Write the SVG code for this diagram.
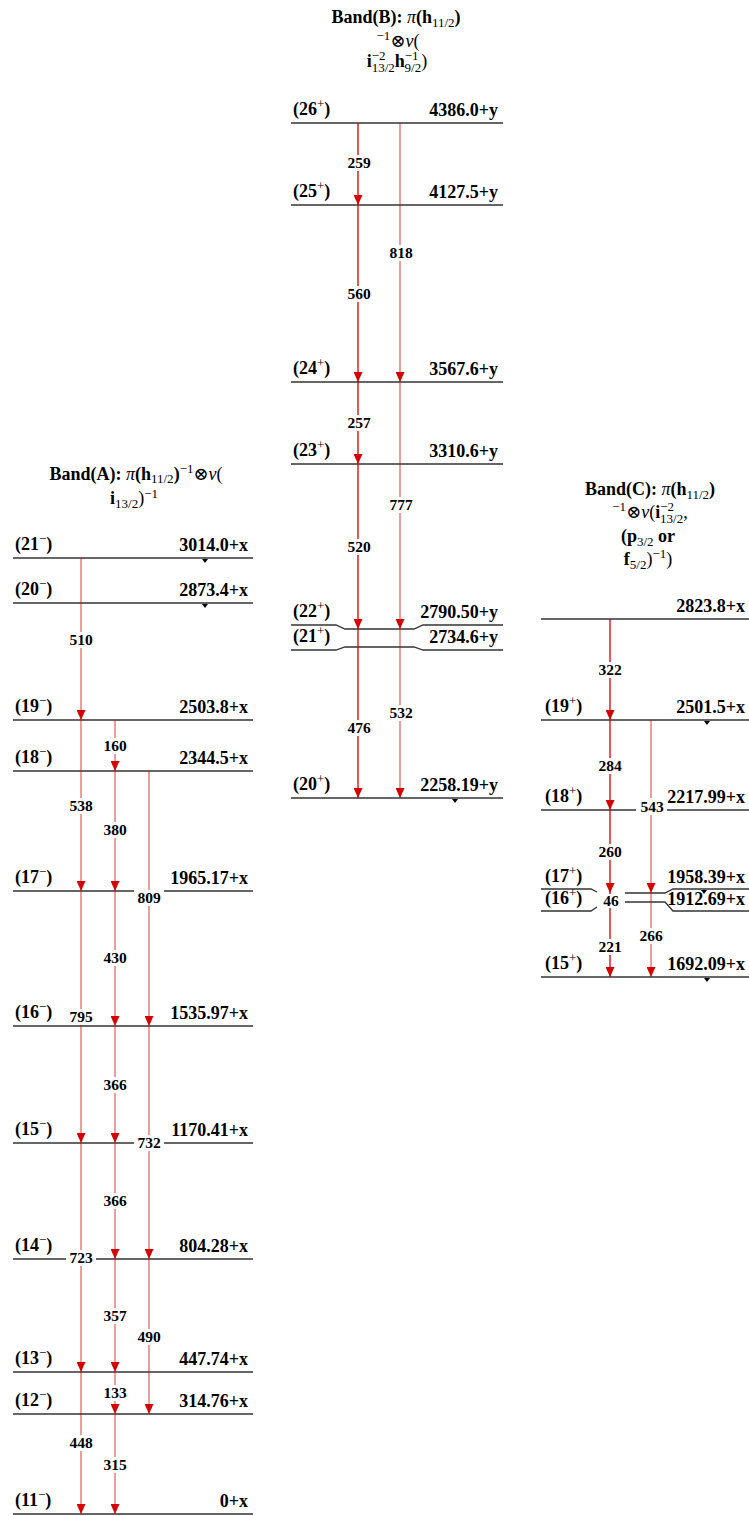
<svg xmlns="http://www.w3.org/2000/svg" width="749" height="1516" viewBox="0 0 749 1516">
<defs>
<marker id="ah" viewBox="0 0 10 9" refX="10" refY="4.5" markerWidth="10" markerHeight="9" markerUnits="userSpaceOnUse" orient="auto"><path d="M0,0 L10,4.5 L0,9 z" fill="#d40000"/></marker>
</defs>
<style>
text{font-family:"Liberation Serif","Times New Roman","DejaVu Serif",serif;font-weight:bold;fill:#000}
.lvl line,.lvl path{stroke:#333;stroke-width:1.3;fill:none}
.lvl polygon{fill:#000}
.spin{font-size:18px}
.en{font-size:18px;text-anchor:end}
.sup{font-size:13px;font-weight:normal}
.tr line{stroke:#d40000;stroke-width:1.3}
.tr line.w{stroke-opacity:0.6}
.tr rect{fill:#fff}
.tr text{font-size:15.5px;text-anchor:middle}
.title{font-size:18px;text-anchor:middle}
.n{font-weight:normal}
.it{font-style:italic;font-weight:normal}
.s{font-size:13px;font-weight:normal}
</style>

<!-- Titles -->
<g id="titleA">
<text class="title" x="136" y="480">Band(A): <tspan class="it">π</tspan>(h<tspan class="s" dy="3">11/2</tspan><tspan dy="-3">)</tspan><tspan class="s" dy="-7">−1</tspan><tspan class="n" dy="7">⊗</tspan><tspan class="it">ν</tspan><tspan class="n">(</tspan></text>
<text class="title" x="134" y="504">i<tspan class="s" dy="4">13/2</tspan><tspan class="n" dy="-4">)</tspan><tspan class="s" dy="-6">−1</tspan></text>
</g>
<g id="titleB">
<text class="title" x="396" y="23">Band(B): <tspan class="it">π</tspan>(h<tspan class="s" dy="4">11/2</tspan><tspan dy="-4">)</tspan></text>
<text class="title" x="398" y="47"><tspan class="s" dy="-7">−1</tspan><tspan class="n" dy="7">⊗</tspan><tspan class="it">ν</tspan><tspan class="n">(</tspan></text>
<text class="title" x="397" y="67">i<tspan class="s" dy="-7">−2</tspan><tspan class="s" dx="-14" dy="12">13/2</tspan><tspan dy="-5">h</tspan><tspan class="s" dy="-7">−1</tspan><tspan class="s" dx="-14" dy="12">9/2</tspan><tspan class="n" dy="-5">)</tspan></text>
</g>
<g id="titleC">
<text class="title" x="650" y="495">Band(C): <tspan class="it">π</tspan>(h<tspan class="s" dy="4">11/2</tspan><tspan dy="-4">)</tspan></text>
<text class="title" x="650" y="518"><tspan class="s" dy="-7">−1</tspan><tspan class="n" dy="7">⊗</tspan><tspan class="it">ν</tspan><tspan class="n">(</tspan>i<tspan class="s" dy="-7">−2</tspan><tspan class="s" dx="-14" dy="12">13/2</tspan><tspan class="n" dy="-5">,</tspan></text>
<text class="title" x="648" y="542">(p<tspan class="s" dy="4">3/2</tspan><tspan dy="-4"> or</tspan></text>
<text class="title" x="648" y="565">f<tspan class="s" dy="4">5/2</tspan><tspan class="n" dy="-4">)</tspan><tspan class="s" dy="-7">−1</tspan><tspan class="n" dy="7">)</tspan></text>
</g>

<!-- Band A levels -->
<g id="A21" class="lvl"><line x1="13" y1="558" x2="253" y2="558"/><polygon points="202,559 208,559 205,563"/><text class="spin" x="15" y="550">(21<tspan class="sup" dy="-7">−</tspan><tspan dy="7">)</tspan></text><text class="en" x="248" y="551">3014.0+x</text></g>
<g id="A20" class="lvl"><line x1="13" y1="603" x2="253" y2="603"/><polygon points="202,604 208,604 205,608"/><text class="spin" x="15" y="595">(20<tspan class="sup" dy="-7">−</tspan><tspan dy="7">)</tspan></text><text class="en" x="248" y="596">2873.4+x</text></g>
<g id="A19" class="lvl"><line x1="13" y1="720" x2="253" y2="720"/><text class="spin" x="15" y="712">(19<tspan class="sup" dy="-7">−</tspan><tspan dy="7">)</tspan></text><text class="en" x="248" y="713">2503.8+x</text></g>
<g id="A18" class="lvl"><line x1="13" y1="771" x2="253" y2="771"/><text class="spin" x="15" y="763">(18<tspan class="sup" dy="-7">−</tspan><tspan dy="7">)</tspan></text><text class="en" x="248" y="764">2344.5+x</text></g>
<g id="A17" class="lvl"><line x1="13" y1="891" x2="253" y2="891"/><text class="spin" x="15" y="883">(17<tspan class="sup" dy="-7">−</tspan><tspan dy="7">)</tspan></text><text class="en" x="248" y="884">1965.17+x</text></g>
<g id="A16" class="lvl"><line x1="13" y1="1026" x2="253" y2="1026"/><text class="spin" x="15" y="1018">(16<tspan class="sup" dy="-7">−</tspan><tspan dy="7">)</tspan></text><text class="en" x="248" y="1019">1535.97+x</text></g>
<g id="A15" class="lvl"><line x1="13" y1="1143" x2="253" y2="1143"/><text class="spin" x="15" y="1135">(15<tspan class="sup" dy="-7">−</tspan><tspan dy="7">)</tspan></text><text class="en" x="248" y="1136">1170.41+x</text></g>
<g id="A14" class="lvl"><line x1="13" y1="1259" x2="253" y2="1259"/><text class="spin" x="15" y="1251">(14<tspan class="sup" dy="-7">−</tspan><tspan dy="7">)</tspan></text><text class="en" x="248" y="1252">804.28+x</text></g>
<g id="A13" class="lvl"><line x1="13" y1="1372" x2="253" y2="1372"/><text class="spin" x="15" y="1364">(13<tspan class="sup" dy="-7">−</tspan><tspan dy="7">)</tspan></text><text class="en" x="248" y="1365">447.74+x</text></g>
<g id="A12" class="lvl"><line x1="13" y1="1414" x2="253" y2="1414"/><text class="spin" x="15" y="1406">(12<tspan class="sup" dy="-7">−</tspan><tspan dy="7">)</tspan></text><text class="en" x="248" y="1407">314.76+x</text></g>
<g id="A11" class="lvl"><line x1="13" y1="1514" x2="253" y2="1514"/><text class="spin" x="15" y="1506">(11<tspan class="sup" dy="-7">−</tspan><tspan dy="7">)</tspan></text><text class="en" x="248" y="1507">0+x</text></g>

<!-- Band B levels -->
<g id="B26" class="lvl"><line x1="291" y1="123" x2="503" y2="123"/><text class="spin" x="293" y="115">(26<tspan class="sup" dy="-7">+</tspan><tspan dy="7">)</tspan></text><text class="en" x="498" y="116">4386.0+y</text></g>
<g id="B25" class="lvl"><line x1="291" y1="205" x2="503" y2="205"/><text class="spin" x="293" y="197">(25<tspan class="sup" dy="-7">+</tspan><tspan dy="7">)</tspan></text><text class="en" x="498" y="198">4127.5+y</text></g>
<g id="B24" class="lvl"><line x1="291" y1="382" x2="503" y2="382"/><text class="spin" x="293" y="374">(24<tspan class="sup" dy="-7">+</tspan><tspan dy="7">)</tspan></text><text class="en" x="498" y="375">3567.6+y</text></g>
<g id="B23" class="lvl"><line x1="291" y1="464" x2="503" y2="464"/><text class="spin" x="293" y="456">(23<tspan class="sup" dy="-7">+</tspan><tspan dy="7">)</tspan></text><text class="en" x="498" y="457">3310.6+y</text></g>
<g id="B22" class="lvl"><path d="M291,625 L336,625 L345,629 L414,629 L423,625 L503,625"/><text class="spin" x="293" y="617">(22<tspan class="sup" dy="-7">+</tspan><tspan dy="7">)</tspan></text><text class="en" x="498" y="618">2790.50+y</text></g>
<g id="B21" class="lvl"><path d="M291,650 L336,650 L345,647 L414,647 L423,650 L503,650"/><text class="spin" x="293" y="642">(21<tspan class="sup" dy="-7">+</tspan><tspan dy="7">)</tspan></text><text class="en" x="498" y="643">2734.6+y</text></g>
<g id="B20" class="lvl"><line x1="291" y1="798" x2="503" y2="798"/><polygon points="452,799 458,799 455,803"/><text class="spin" x="293" y="790">(20<tspan class="sup" dy="-7">+</tspan><tspan dy="7">)</tspan></text><text class="en" x="498" y="791">2258.19+y</text></g>

<!-- Band C levels -->
<g id="C2823" class="lvl"><line x1="541" y1="619" x2="749" y2="619"/><text class="en" x="745" y="612">2823.8+x</text></g>
<g id="C19" class="lvl"><line x1="541" y1="720" x2="749" y2="720"/><polygon points="704,721 710,721 707,725"/><text class="spin" x="545" y="712">(19<tspan class="sup" dy="-7">+</tspan><tspan dy="7">)</tspan></text><text class="en" x="745" y="713">2501.5+x</text></g>
<g id="C18" class="lvl"><line x1="541" y1="810" x2="749" y2="810"/><text class="spin" x="545" y="802">(18<tspan class="sup" dy="-7">+</tspan><tspan dy="7">)</tspan></text><text class="en" x="745" y="803">2217.99+x</text></g>
<g id="C17" class="lvl"><path d="M541,889 L591,889 L597,892"/><path d="M625,893 L665,893 L673,889 L749,889"/><polygon points="701,890 707,890 704,894"/><text class="spin" x="545" y="882">(17<tspan class="sup" dy="-7">+</tspan><tspan dy="7">)</tspan></text><text class="en" x="745" y="883">1958.39+x</text></g>
<g id="C16" class="lvl"><path d="M541,911 L591,911 L597,907"/><path d="M625,902 L665,902 L673,911 L749,911"/><text class="spin" x="545" y="904">(16<tspan class="sup" dy="-7">+</tspan><tspan dy="7">)</tspan></text><text class="en" x="745" y="905">1912.69+x</text></g>
<g id="C15" class="lvl"><line x1="541" y1="977" x2="749" y2="977"/><polygon points="704,978 710,978 707,982"/><text class="spin" x="545" y="969">(15<tspan class="sup" dy="-7">+</tspan><tspan dy="7">)</tspan></text><text class="en" x="745" y="970">1692.09+x</text></g>

<!-- Connectors -->
<g id="connectors" class="tr">
<line class="w" x1="81" y1="558" x2="81" y2="720" marker-end="url(#ah)"/><rect x="67" y="632" width="28" height="16"/><text x="81" y="645">510</text>
<line class="w" x1="115" y1="720" x2="115" y2="771" marker-end="url(#ah)"/><rect x="101" y="738" width="28" height="16"/><text x="115" y="751">160</text>
<line class="w" x1="81" y1="720" x2="81" y2="891" marker-end="url(#ah)"/><rect x="67" y="798" width="28" height="16"/><text x="81" y="811">538</text>
<line class="w" x1="115" y1="771" x2="115" y2="891" marker-end="url(#ah)"/><rect x="101" y="822" width="28" height="16"/><text x="115" y="835">380</text>
<line class="w" x1="149" y1="771" x2="149" y2="1026" marker-end="url(#ah)"/><rect x="134" y="890" width="30" height="16"/><text x="149" y="903">809</text>
<line class="w" x1="115" y1="891" x2="115" y2="1026" marker-end="url(#ah)"/><rect x="101" y="950" width="28" height="16"/><text x="115" y="963">430</text>
<line class="w" x1="81" y1="891" x2="81" y2="1143" marker-end="url(#ah)"/><rect x="67" y="1009" width="28" height="16"/><text x="81" y="1022">795</text>
<line class="w" x1="115" y1="1026" x2="115" y2="1143" marker-end="url(#ah)"/><rect x="101" y="1077" width="28" height="16"/><text x="115" y="1090">366</text>
<line class="w" x1="149" y1="1026" x2="149" y2="1259" marker-end="url(#ah)"/><rect x="134" y="1135" width="30" height="16"/><text x="149" y="1148">732</text>
<line class="w" x1="115" y1="1143" x2="115" y2="1259" marker-end="url(#ah)"/><rect x="101" y="1193" width="28" height="16"/><text x="115" y="1206">366</text>
<line class="w" x1="81" y1="1143" x2="81" y2="1372" marker-end="url(#ah)"/><rect x="66" y="1250" width="30" height="16"/><text x="81" y="1263">723</text>
<line class="w" x1="115" y1="1259" x2="115" y2="1372" marker-end="url(#ah)"/><rect x="101" y="1308" width="28" height="16"/><text x="115" y="1321">357</text>
<line class="w" x1="149" y1="1259" x2="149" y2="1414" marker-end="url(#ah)"/><rect x="135" y="1329" width="28" height="16"/><text x="149" y="1342">490</text>
<line class="w" x1="115" y1="1372" x2="115" y2="1414" marker-end="url(#ah)"/><rect x="101" y="1385" width="28" height="16"/><text x="115" y="1398">133</text>
<line class="w" x1="81" y1="1372" x2="81" y2="1514" marker-end="url(#ah)"/><rect x="67" y="1435" width="28" height="16"/><text x="81" y="1448">448</text>
<line class="w" x1="115" y1="1414" x2="115" y2="1514" marker-end="url(#ah)"/><rect x="101" y="1457" width="28" height="16"/><text x="115" y="1470">315</text>

<line x1="358" y1="123" x2="358" y2="205" marker-end="url(#ah)"/><rect x="345" y="155" width="28" height="16"/><text x="359" y="168">259</text>
<line class="w" x1="400" y1="123" x2="400" y2="382" marker-end="url(#ah)"/><rect x="387" y="245" width="28" height="16"/><text x="401" y="258">818</text>
<line x1="358" y1="205" x2="358" y2="382" marker-end="url(#ah)"/><rect x="345" y="286" width="28" height="16"/><text x="359" y="299">560</text>
<line x1="358" y1="382" x2="358" y2="464" marker-end="url(#ah)"/><rect x="345" y="415" width="28" height="16"/><text x="359" y="428">257</text>
<line class="w" x1="400" y1="382" x2="400" y2="629" marker-end="url(#ah)"/><rect x="387" y="497" width="28" height="16"/><text x="401" y="510">777</text>
<line x1="358" y1="464" x2="358" y2="629" marker-end="url(#ah)"/><rect x="345" y="539" width="28" height="16"/><text x="359" y="552">520</text>
<line class="w" x1="400" y1="629" x2="400" y2="798" marker-end="url(#ah)"/><rect x="387" y="705" width="28" height="16"/><text x="401" y="718">532</text>
<line x1="358" y1="629" x2="358" y2="798" marker-end="url(#ah)"/><rect x="345" y="720" width="28" height="16"/><text x="359" y="733">476</text>

<line x1="610" y1="619" x2="610" y2="720" marker-end="url(#ah)"/><rect x="596" y="662" width="28" height="16"/><text x="610" y="675">322</text>
<line x1="610" y1="720" x2="610" y2="810" marker-end="url(#ah)"/><rect x="596" y="758" width="28" height="16"/><text x="610" y="771">284</text>
<line class="w" x1="651" y1="720" x2="651" y2="893" marker-end="url(#ah)"/><rect x="636" y="798" width="31" height="17"/><text x="652" y="812">543</text>
<line x1="610" y1="810" x2="610" y2="893" marker-end="url(#ah)"/><rect x="596" y="844" width="28" height="16"/><text x="610" y="857">260</text>
<line x1="610" y1="893" x2="610" y2="908"/><rect x="601" y="894" width="20" height="15"/><text x="611" y="906">46</text>
<line x1="610" y1="908" x2="610" y2="977" marker-end="url(#ah)"/><rect x="596" y="939" width="28" height="16"/><text x="610" y="952">221</text>
<line class="w" x1="651" y1="893" x2="651" y2="977" marker-end="url(#ah)"/><rect x="637" y="928" width="28" height="16"/><text x="651" y="941">266</text>
</g>
</svg>
